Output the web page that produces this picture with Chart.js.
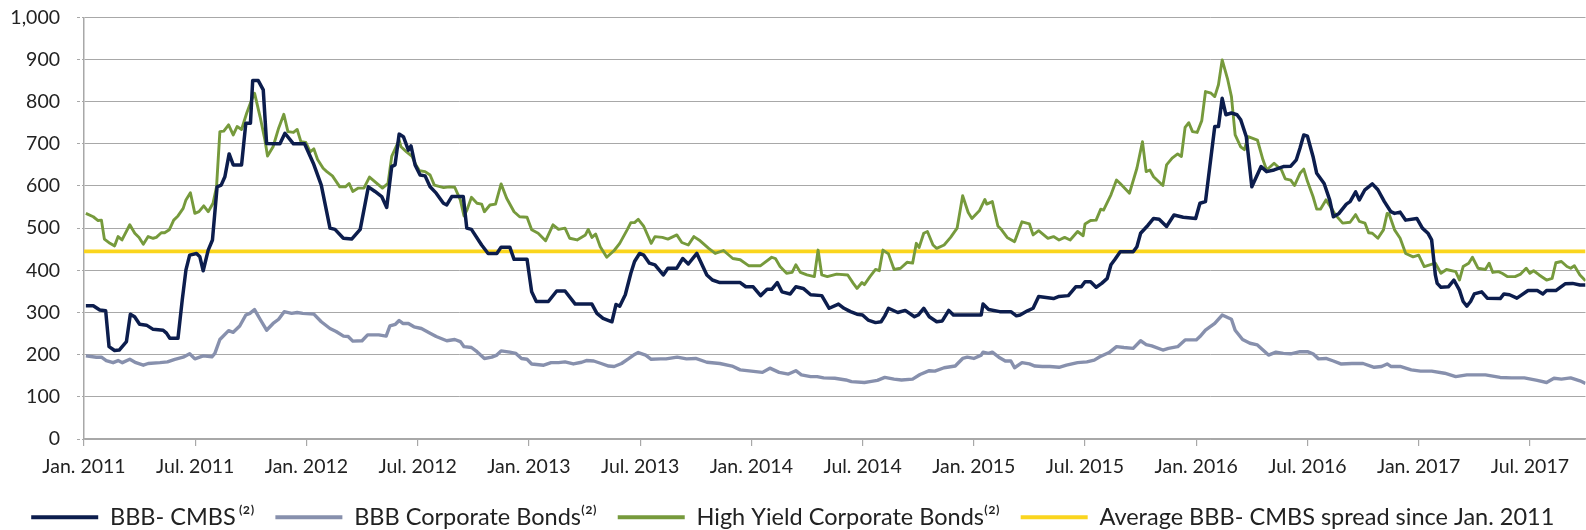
<!DOCTYPE html>
<html><head><meta charset="utf-8">
<script src="https://cdn.jsdelivr.net/npm/chart.js@4.4.1/dist/chart.umd.min.js"></script>
<style>html,body{margin:0;padding:0;background:#fff;}canvas{display:block;}</style>
</head><body>
<canvas id="c" width="1586" height="530"></canvas>
<script>
// x = months since Jan. 2011
const tickLabels = ["Jan. 2011","Jul. 2011","Jan. 2012","Jul. 2012","Jan. 2013","Jul. 2013","Jan. 2014","Jul. 2014","Jan. 2015","Jul. 2015","Jan. 2016","Jul. 2016","Jan. 2017","Jul. 2017"];
const seriesNames = ["BBB- CMBS\u2009\u207D\u00B2\u207E","BBB Corporate Bonds\u207D\u00B2\u207E","High Yield Corporate Bonds\u207D\u00B2\u207E","Average BBB- CMBS spread since Jan. 2011"];
const xRange = [0, 81];

const cmbsSeries = [[0.1,316],[0.5,316],[0.85,306],[1.17,304],[1.35,219],[1.65,210],[1.9,211],[2.29,231],[2.5,296],[2.73,290],[3.0,272],[3.37,270],[3.73,260],[4.27,258],[4.45,251],[4.63,239],[5.07,239],[5.3,330],[5.5,401],[5.7,436],[6.07,440],[6.25,432],[6.43,399],[6.7,448],[6.93,472],[7.18,598],[7.4,602],[7.6,622],[7.83,676],[8.05,650],[8.5,650],[8.73,749],[8.98,749],[9.1,850],[9.4,850],[9.67,828],[9.85,701],[10.4,700],[10.57,700],[10.84,725],[11.3,700],[11.9,700],[12.37,654],[12.8,602],[13.27,500],[13.54,497],[13.99,476],[14.44,474],[14.9,497],[15.34,598],[15.7,587],[16.06,575],[16.33,549],[16.6,646],[16.78,650],[17.0,723],[17.23,717],[17.5,685],[17.64,695],[17.86,650],[18.13,626],[18.4,624],[18.67,598],[19.0,583],[19.39,559],[19.57,555],[19.84,575],[20.46,575],[20.65,500],[20.9,497],[21.45,460],[21.8,440],[22.27,440],[22.5,455],[22.97,455],[23.2,426],[23.9,426],[24.15,349],[24.4,326],[25.05,326],[25.5,351],[25.95,351],[26.5,320],[27.4,320],[27.67,298],[28.0,286],[28.48,278],[28.7,319],[28.9,315],[29.2,342],[29.5,393],[29.7,421],[29.97,440],[30.2,436],[30.5,417],[30.8,413],[31.25,389],[31.5,405],[31.98,405],[32.3,428],[32.6,415],[33.06,440],[33.6,389],[33.9,377],[34.3,371],[35.4,371],[35.7,361],[36.1,361],[36.5,340],[36.85,355],[37.1,355],[37.4,371],[37.65,349],[38.1,344],[38.4,361],[38.8,357],[39.2,342],[39.8,340],[40.2,310],[40.7,320],[41.0,310],[41.35,302],[41.7,296],[42.0,294],[42.3,282],[42.7,276],[43.0,278],[43.2,292],[43.4,310],[43.9,300],[44.3,305],[44.8,290],[45.0,294],[45.3,310],[45.6,290],[46.0,278],[46.3,280],[46.65,305],[46.9,294],[48.4,294],[48.5,320],[48.8,307],[49.4,302],[50.0,302],[50.3,292],[50.5,294],[50.9,304],[51.2,310],[51.5,338],[52.3,333],[52.6,338],[53.1,340],[53.5,361],[53.8,361],[54.0,373],[54.3,373],[54.6,360],[54.9,369],[55.2,381],[55.4,413],[55.6,425],[55.9,444],[56.6,444],[56.8,456],[57.0,488],[57.4,507],[57.7,523],[58.0,521],[58.4,504],[58.8,531],[59.3,526],[59.97,523],[60.2,559],[60.5,563],[61.0,741],[61.2,741],[61.4,808],[61.6,769],[61.9,773],[62.2,769],[62.4,757],[62.7,717],[63.0,598],[63.5,646],[63.8,634],[64.2,638],[64.7,646],[65.1,647],[65.4,662],[65.6,690],[65.8,721],[66.0,718],[66.3,670],[66.5,630],[66.9,606],[67.2,567],[67.4,527],[67.7,535],[68.1,557],[68.3,563],[68.6,586],[68.8,567],[69.1,591],[69.5,605],[69.8,591],[70.15,563],[70.5,539],[70.7,535],[71.0,538],[71.3,519],[71.9,523],[72.2,500],[72.5,488],[72.7,472],[72.9,389],[73.0,369],[73.2,360],[73.6,361],[73.9,377],[74.2,353],[74.4,326],[74.6,315],[74.8,326],[75.0,344],[75.4,349],[75.7,334],[76.4,333],[76.6,344],[76.9,342],[77.3,334],[77.5,340],[77.9,352],[78.4,352],[78.7,344],[78.9,352],[79.4,352],[79.9,368],[80.3,369],[80.7,365],[81.0,365]];

const corpSeries = [[0.1,197],[0.67,194],[0.94,194],[1.2,186],[1.57,181],[1.84,186],[2.07,181],[2.47,189],[2.8,181],[3.2,175],[3.46,179],[4.1,181],[4.5,183],[4.9,189],[5.35,194],[5.7,202],[5.98,190],[6.43,197],[6.9,195],[7.06,203],[7.33,236],[7.8,257],[8.05,253],[8.4,268],[8.73,294],[8.95,298],[9.2,307],[9.5,284],[9.85,258],[10.2,274],[10.5,284],[10.8,302],[11.2,298],[11.5,300],[11.8,298],[12.4,296],[12.8,278],[13.27,262],[13.6,255],[14.0,244],[14.25,243],[14.5,232],[15.0,233],[15.3,247],[15.9,247],[16.3,244],[16.5,268],[16.8,272],[17.0,281],[17.2,274],[17.5,274],[17.8,266],[18.2,262],[18.67,251],[19.0,243],[19.4,236],[19.57,233],[20.0,236],[20.3,231],[20.5,219],[20.9,217],[21.2,207],[21.6,191],[22.0,194],[22.27,199],[22.5,209],[22.97,206],[23.3,203],[23.6,191],[23.9,189],[24.15,178],[24.8,175],[25.2,181],[25.6,181],[25.95,183],[26.4,178],[26.85,182],[27.1,186],[27.5,185],[27.9,179],[28.3,173],[28.6,172],[29.0,179],[29.4,191],[29.65,199],[29.9,205],[30.3,199],[30.6,189],[31.1,190],[31.4,190],[32.0,194],[32.5,190],[33.0,191],[33.6,182],[34.3,179],[34.96,173],[35.4,164],[36.0,161],[36.6,158],[37.0,168],[37.5,158],[38.0,154],[38.4,162],[38.7,152],[39.2,148],[39.55,148],[39.9,145],[40.5,144],[41.1,140],[41.4,136],[42.1,134],[42.4,136],[42.8,139],[43.2,146],[43.7,142],[44.1,140],[44.7,142],[45.1,153],[45.6,162],[45.9,161],[46.4,169],[47.0,173],[47.4,191],[47.65,194],[48.0,191],[48.4,199],[48.5,206],[48.8,203],[49.0,206],[49.35,194],[49.7,185],[50.0,185],[50.2,169],[50.6,181],[51.0,178],[51.3,173],[51.7,172],[52.1,172],[52.6,170],[53.0,175],[53.6,181],[54.1,183],[54.5,187],[54.8,195],[55.3,205],[55.7,219],[56.1,217],[56.6,215],[57.0,233],[57.3,224],[57.6,221],[58.2,211],[58.5,215],[59.0,219],[59.4,235],[60.0,235],[60.2,243],[60.5,258],[61.0,274],[61.4,294],[61.9,284],[62.1,258],[62.5,236],[62.9,227],[63.3,223],[63.6,211],[63.9,199],[64.3,206],[64.7,203],[65.1,202],[65.6,207],[66.0,207],[66.3,202],[66.6,190],[67.0,191],[67.4,185],[67.8,178],[68.4,179],[69.0,179],[69.6,170],[70.0,172],[70.3,178],[70.5,172],[71.0,172],[71.6,164],[72.1,161],[72.7,161],[73.4,156],[74.0,148],[74.6,152],[75.6,152],[76.4,146],[77.0,145],[77.7,145],[78.4,139],[78.9,134],[79.3,144],[79.7,142],[80.2,145],[80.7,138],[81.0,132]];

const hySeries = [[0.1,535],[0.5,527],[0.76,518],[0.94,519],[1.1,474],[1.4,464],[1.65,458],[1.84,480],[2.05,472],[2.47,508],[2.74,488],[2.97,478],[3.2,462],[3.46,480],[3.73,476],[3.9,478],[4.17,489],[4.35,489],[4.6,496],[4.84,519],[5.07,529],[5.35,547],[5.5,567],[5.74,584],[5.98,535],[6.2,539],[6.46,553],[6.7,539],[6.96,559],[7.15,598],[7.33,729],[7.54,730],[7.8,745],[8.05,721],[8.26,741],[8.5,734],[8.77,772],[9.04,804],[9.2,820],[9.5,764],[9.76,709],[9.9,671],[10.2,693],[10.5,737],[10.78,770],[11.0,729],[11.3,727],[11.5,734],[11.7,705],[11.97,703],[12.2,681],[12.4,688],[12.6,663],[12.9,642],[13.1,634],[13.4,624],[13.8,598],[14.1,598],[14.3,606],[14.5,587],[14.8,595],[15.1,595],[15.4,621],[15.8,606],[16.1,595],[16.4,606],[16.6,670],[17.0,709],[17.1,693],[17.4,681],[17.7,670],[17.9,650],[18.1,636],[18.4,634],[18.67,626],[18.9,602],[19.4,596],[19.7,598],[20.0,597],[20.3,567],[20.5,529],[20.65,542],[20.9,573],[21.2,559],[21.45,557],[21.6,539],[21.9,555],[22.2,557],[22.5,605],[22.8,571],[23.2,539],[23.5,527],[23.9,526],[24.15,496],[24.5,488],[24.9,470],[25.3,508],[25.6,497],[25.95,500],[26.2,476],[26.6,472],[27.05,484],[27.2,497],[27.4,478],[27.6,486],[27.85,456],[28.2,431],[28.6,447],[28.9,464],[29.3,496],[29.5,513],[29.7,513],[29.9,521],[30.2,504],[30.6,464],[30.8,480],[31.2,478],[31.5,474],[31.98,484],[32.25,466],[32.6,460],[32.9,480],[33.24,470],[33.7,452],[34.05,440],[34.5,447],[35.0,428],[35.4,425],[35.85,411],[36.5,411],[37.1,431],[37.3,428],[37.55,409],[37.9,393],[38.2,395],[38.4,413],[38.65,395],[39.0,389],[39.4,385],[39.6,448],[39.8,389],[40.1,385],[40.6,391],[41.2,389],[41.5,369],[41.7,357],[41.97,371],[42.1,366],[42.4,385],[42.7,402],[42.9,399],[43.1,448],[43.4,439],[43.7,402],[44.05,405],[44.4,419],[44.7,417],[44.9,464],[45.05,454],[45.3,488],[45.5,492],[45.8,460],[46.0,452],[46.4,460],[46.75,478],[47.1,500],[47.4,577],[47.7,537],[47.9,523],[48.3,541],[48.6,568],[48.7,557],[49.0,563],[49.3,505],[49.5,496],[49.8,478],[50.2,468],[50.6,515],[51.0,510],[51.2,484],[51.5,494],[52.0,476],[52.3,480],[52.6,472],[52.9,478],[53.2,472],[53.6,492],[53.9,482],[54.0,510],[54.3,518],[54.6,519],[54.85,545],[55.0,543],[55.4,579],[55.7,614],[55.9,606],[56.4,583],[56.8,642],[57.1,705],[57.3,634],[57.5,638],[57.7,622],[58.2,601],[58.4,650],[58.7,666],[59.0,676],[59.2,670],[59.4,739],[59.6,750],[59.8,729],[60.05,727],[60.3,755],[60.5,824],[60.8,820],[61.0,812],[61.2,840],[61.4,899],[61.7,852],[61.9,812],[62.1,721],[62.4,693],[62.6,686],[62.8,717],[63.3,709],[63.6,662],[63.8,638],[64.2,654],[64.6,638],[64.8,617],[65.1,614],[65.3,601],[65.6,630],[65.8,640],[66.0,611],[66.3,575],[66.5,545],[66.7,545],[67.0,567],[67.3,547],[67.5,532],[67.9,512],[68.3,514],[68.6,532],[68.8,516],[69.1,512],[69.3,489],[69.5,488],[69.8,476],[70.1,496],[70.3,535],[70.4,534],[70.7,496],[71.0,476],[71.3,440],[71.7,432],[72.0,436],[72.3,409],[72.6,413],[72.9,417],[73.2,393],[73.5,402],[74.0,397],[74.2,377],[74.4,409],[74.7,417],[74.9,431],[75.2,405],[75.6,402],[75.8,417],[76.0,395],[76.3,397],[76.5,393],[76.8,385],[77.2,385],[77.5,391],[77.8,405],[78.0,393],[78.2,399],[78.5,389],[78.9,377],[79.2,381],[79.4,418],[79.7,421],[80.0,409],[80.2,405],[80.4,411],[80.7,389],[81.0,375]];

const avgSpread = 445;

const colors = ["#0c1d4d", "#8790ad", "#769a3c", "#fad51e"];
const widths = [3.5, 3.4, 2.9, 3.8];

const toPts = s => s.map(p => ({x: p[0], y: p[1]}));
const avgSeries = [[xRange[0], avgSpread], [xRange[1], avgSpread]];
const allSeries = [cmbsSeries, corpSeries, hySeries, avgSeries];

const FONT = "Lato, 'Open Sans', sans-serif";
const GRID = "#a8a8a8";

new Chart(document.getElementById('c'), {
  type: 'line',
  data: {
    datasets: allSeries.map((s, i) => ({
      label: seriesNames[i],
      data: toPts(s),
      borderColor: colors[i],
      backgroundColor: colors[i],
      borderWidth: widths[i],
      pointRadius: 0,
      tension: 0,
      fill: false,
      borderJoinStyle: 'round'
    }))
  },
  options: {
    responsive: false,
    animation: false,
    devicePixelRatio: 1,
    layout: { padding: { top: 17.3, right: 0.5, left: 0, bottom: -9 } },
    plugins: {
      tooltip: { enabled: false },
      legend: {
        position: 'bottom',
        labels: {
          boxWidth: 67, boxHeight: 4, padding: 21, color: '#222',
          font: { family: FONT, size: 23.5 },
          generateLabels: chart => chart.data.datasets.map((ds, i) => ({
            text: ds.label, fillStyle: ds.borderColor, strokeStyle: ds.borderColor,
            lineWidth: 0, hidden: false, datasetIndex: i, fontColor: '#222'
          }))
        }
      }
    },
    scales: {
      x: {
        type: 'linear', min: xRange[0], max: xRange[1],
        afterFit: s => { s.height = 45.5; },
        grid: { drawOnChartArea: false, drawTicks: true, tickLength: 7, color: GRID, lineWidth: 1.2 },
        border: { display: true, color: GRID, width: 1.5 },
        ticks: {
          stepSize: 6, includeBounds: false, autoSkip: false, maxRotation: 0,
          padding: 9, color: '#222', font: { family: FONT, size: 19.5 },
          callback: v => tickLabels[Math.round(v / 6)] ?? ''
        }
      },
      y: {
        min: 0, max: 1000,
        afterFit: s => { s.width = 84; s.paddingTop = 0; s.paddingBottom = 0; },
        grid: { color: GRID, lineWidth: 1, tickLength: 7, borderDash: [3, 2], tickBorderDash: [3, 2], tickColor: GRID },
        border: { display: true, color: GRID, width: 1.5, dash: [] },
        ticks: {
          stepSize: 100, padding: 17, color: '#222', font: { family: FONT, size: 19.5 },
          callback: v => Number(v).toLocaleString('en-US')
        }
      }
    }
  }
});
</script>
</body></html>
